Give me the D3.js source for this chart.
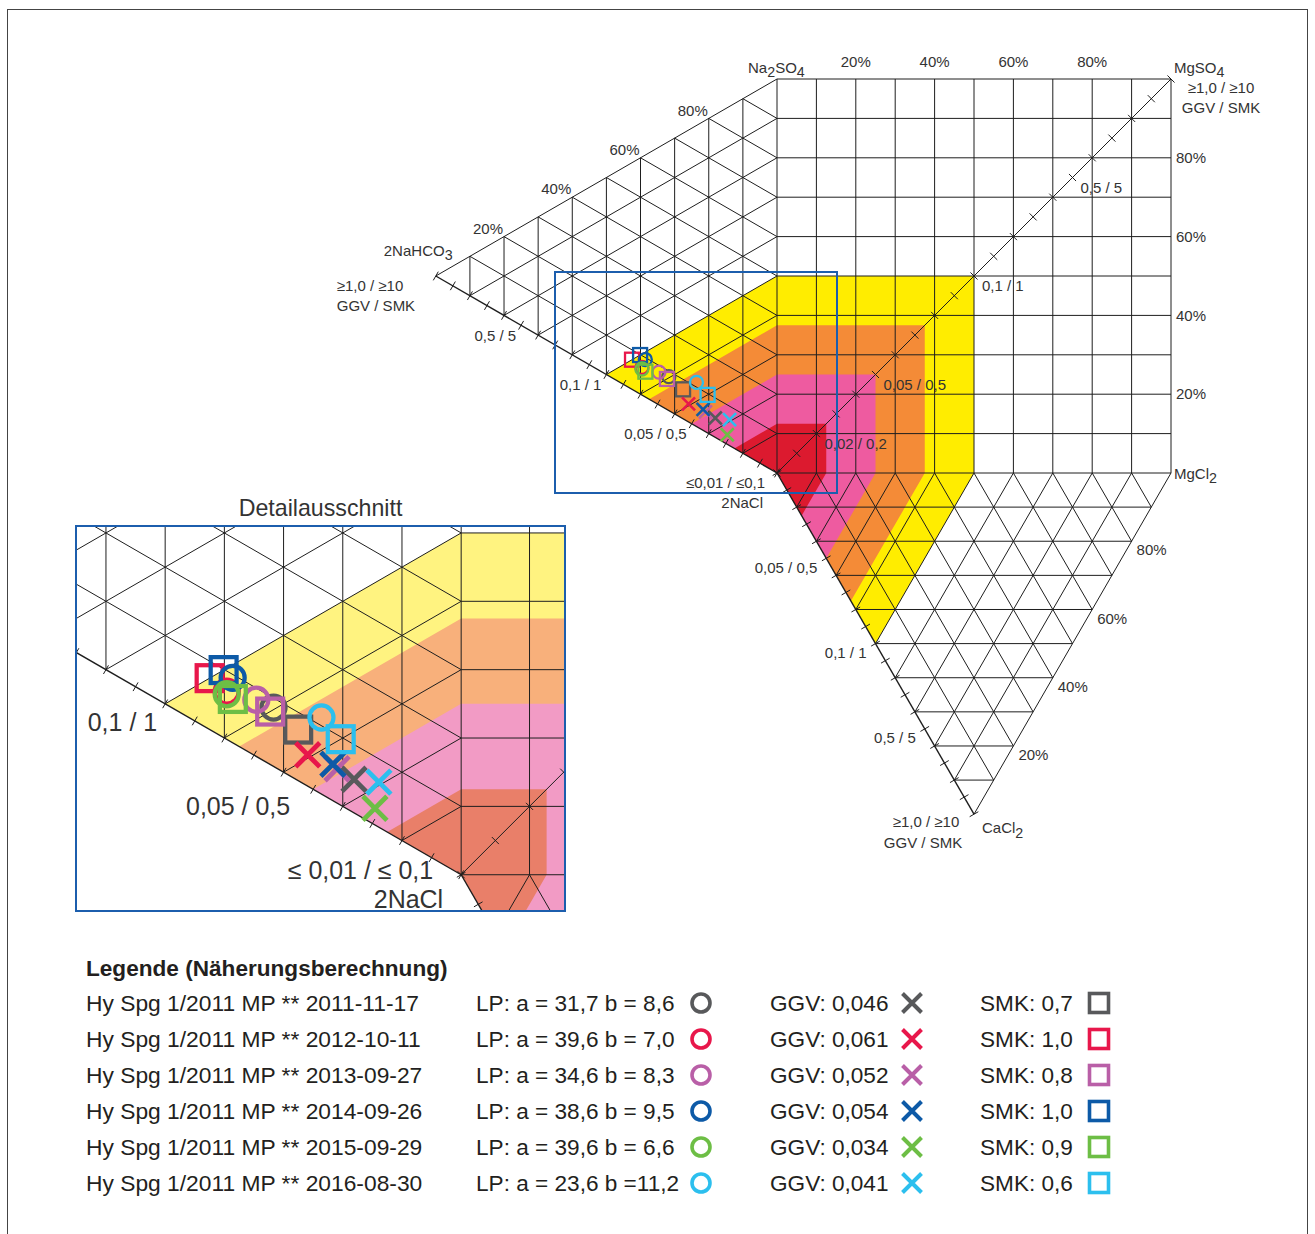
<!DOCTYPE html>
<html>
<head>
<meta charset="utf-8">
<script src="https://cdn.jsdelivr.net/npm/d3@7"></script>
<style>
  body { margin: 0; background: #fff; }
</style>
</head>
<body>
<div id="chart"></div>
<script>
// Messpunkte (Legende)
const samples = [
  "Hy Spg 1/2011 MP ** 2011-11-17",
  "Hy Spg 1/2011 MP ** 2012-10-11",
  "Hy Spg 1/2011 MP ** 2013-09-27",
  "Hy Spg 1/2011 MP ** 2014-09-26",
  "Hy Spg 1/2011 MP ** 2015-09-29",
  "Hy Spg 1/2011 MP ** 2016-08-30"
];
const lpA = [31.7, 39.6, 34.6, 38.6, 39.6, 23.6];   // % 2NaHCO3
const lpB = [8.6, 7.0, 8.3, 9.5, 6.6, 11.2];        // % Na2SO4
const ggv = [0.046, 0.061, 0.052, 0.054, 0.034, 0.041];
const smk = [0.7, 1.0, 0.8, 1.0, 0.9, 0.6];
const sampleColors = ["#58595b", "#e8174b", "#b95fa7", "#0d5aa7", "#6dbe45", "#2cbfee"];

// Skala GGV / SMK (SMK = 10 x GGV)
const ggvDomain = [0.01, 0.02, 0.05, 0.1, 0.5, 1];
const ggvPos = [0, 0.1, 0.25, 0.5, 0.75, 1];
const ratioVals = [0.5, 0.1, 0.05, 0.02];
const ratioText = ["0,5 / 5", "0,1 / 1", "0,05 / 0,5", "0,02 / 0,2"];
const pctTicks = [20, 40, 60, 80];

// Farbige Bereiche (Grenzwerte GGV)
const bandLimits = [0.1, 0.075, 0.05, 0.025];
const bandColors = ["#ffed00", "#f48b37", "#ee5ba0", "#dc1a2f"];
const bandColorsLight = ["#fff380", "#f8b07b", "#f29bc5", "#e97f69"];

const width = 1315, height = 1234;
const L = 394;
const font = "'Liberation Sans', Arial, Helvetica, sans-serif";

const svg = d3.select("#chart").append("svg")
  .attr("width", width).attr("height", height)
  .style("font-family", font);

svg.append("rect").attr("x", 7.5).attr("y", 9.5).attr("width", 1300).attr("height", 1240)
  .attr("fill", "none").attr("stroke", "#444").attr("stroke-width", 1);

const x = d3.scaleLinear().domain([0, 1]).range([777, 777 + L]);
const y = d3.scaleLinear().domain([0, 1]).range([473, 473 - L]);
const gpos = d3.scaleLinear().domain(ggvDomain).range(ggvPos).clamp(true);

// Ausschnitt
const zoomK = 1.735;
const box = { x0: 555, y0: 272, x1: 837, y1: 493 };
const inset = { x0: 76, y0: 526, x1: 565, y1: 911 };
const xi = d3.scaleLinear().domain([x.invert(box.x0), x.invert(box.x0 + (inset.x1 - inset.x0) / zoomK)]).range([inset.x0, inset.x1]);
const yi = d3.scaleLinear().domain([y.invert(box.y0), y.invert(box.y0 + (inset.y1 - inset.y0) / zoomK)]).range([inset.y0, inset.y1]);

const S3 = Math.sqrt(3) / 2;
const A = [0, 1], B = [0, 0], C = [-S3, 0.5], D = [1, 0], T = [1, 1], E = [0.5, -S3];
const lerp = (p, q, t) => [p[0] + (q[0] - p[0]) * t, p[1] + (q[1] - p[1]) * t];
const mul = (p, t) => [p[0] * t, p[1] * t];

// Beschriftungen (ix/iy: Versatz im Ausschnitt)
const labels = [
  { t: "Na_2SO_4", p: A, dx: -29, dy: -11, a: "start" },
  { t: "MgSO_4", p: T, dx: 3, dy: -11, a: "start" },
  { t: "≥1,0 / ≥10", p: T, dx: 50, dy: 9, a: "middle" },
  { t: "GGV / SMK", p: T, dx: 50, dy: 29, a: "middle" },
  { t: "MgCl_2", p: D, dx: 3, dy: 1, a: "start" },
  { t: "2NaHCO_3", p: C, dx: -52, dy: -25, a: "start" },
  { t: "≥1,0 /  ≥10", p: C, dx: -99, dy: 10, a: "start" },
  { t: "GGV / SMK", p: C, dx: -99, dy: 30, a: "start" },
  { t: "≤ 0,01 / ≤ 0,1", p: B, dx: -12, dy: 10, a: "end", ins: true, ix: -28, iy: -4 },
  { t: "2NaCl", p: B, dx: -14, dy: 30, a: "end", ins: true, ix: -18, iy: 25 },
  { t: "≥1,0 / ≥10", p: E, dx: -48, dy: 8, a: "middle" },
  { t: "GGV / SMK", p: E, dx: -51, dy: 29, a: "middle" },
  { t: "CaCl_2", p: E, dx: 8, dy: 14, a: "start" }
];
const insetOffsets = { "0,1 / 1": [-8, 18], "0,05 / 0,5": [-23, 17] };
ratioVals.forEach((v, i) => {
  const g = gpos(v);
  if (v >= 0.05) {
    const io = insetOffsets[ratioText[i]];
    labels.push({ t: ratioText[i], p: mul(C, g), dx: -5, dy: 10, a: "end",
      ins: !!io, ix: io ? io[0] : 0, iy: io ? io[1] : 0 });
    labels.push({ t: ratioText[i], p: mul(E, g), dx: -9, dy: 9, a: "end" });
  }
  labels.push({ t: ratioText[i], p: [g, g], dx: 8, dy: 10, a: "start" });
});
pctTicks.forEach(v => {
  const t = v / 100;
  labels.push({ t: v + "%", p: [t, 1], dx: 0, dy: -17, a: "middle" });
  labels.push({ t: v + "%", p: [1, t], dx: 5, dy: 0, a: "start" });
  labels.push({ t: v + "%", p: lerp(C, A, t), dx: -16, dy: -8, a: "middle" });
  labels.push({ t: v + "%", p: lerp(E, D, t), dx: 20, dy: 9, a: "middle" });
});

function addText(sel, str, fs) {
  const parts = str.split(/(_.)/).filter(s => s.length);
  let down = false;
  parts.forEach(part => {
    if (part[0] === "_") {
      sel.append("tspan").attr("dy", fs * 0.28).attr("font-size", fs * 0.95).text(part[1]);
      down = true;
    } else {
      const ts = sel.append("tspan").text(part);
      if (down) { ts.attr("dy", -fs * 0.28); down = false; }
    }
  });
}

function drawMarker(g, type, cx, cy, size, color, sw) {
  if (type === "circle") {
    g.append("circle").attr("cx", cx).attr("cy", cy).attr("r", size / 2)
      .attr("fill", "none").attr("stroke", color).attr("stroke-width", sw);
  } else if (type === "square") {
    g.append("rect").attr("x", cx - size / 2).attr("y", cy - size / 2)
      .attr("width", size).attr("height", size)
      .attr("fill", "none").attr("stroke", color).attr("stroke-width", sw);
  } else {
    const h = size / 2;
    g.append("path").attr("d", `M${cx - h},${cy - h}L${cx + h},${cy + h}M${cx - h},${cy + h}L${cx + h},${cy - h}`)
      .attr("fill", "none").attr("stroke", color).attr("stroke-width", sw);
  }
}

function drawDiagram(root, sx, sy, k, colors, isInset, ms) {
  const P = p => [sx(p[0]), sy(p[1])];
  const line = d3.line().x(p => sx(p[0])).y(p => sy(p[1]));

  root.append("g").selectAll("path").data(bandLimits).join("path")
    .attr("d", v => {
      const f = gpos(v);
      return line([[-S3 * f, f / 2], [0, f], [f, f], [f, 0], [f / 2, -S3 * f], [0, 0]]) + "Z";
    })
    .attr("fill", (v, i) => colors[i]);

  const segs = [];
  const tri = (p, q, r) => {
    for (let j = 1; j < 10; j++) {
      const t = j / 10;
      segs.push([lerp(p, q, t), lerp(p, r, t)]);
      segs.push([lerp(q, p, t), lerp(q, r, t)]);
      segs.push([lerp(r, p, t), lerp(r, q, t)]);
    }
  };
  tri(A, B, C);
  tri(B, D, E);
  for (let j = 1; j < 10; j++) {
    const t = j / 10;
    segs.push([[t, 0], [t, 1]]);
    segs.push([[0, t], [1, t]]);
  }
  segs.push([A, C], [A, T], [T, D], [D, E], [A, B], [B, D], [B, T]);

  root.append("g").selectAll("line").data(segs).join("line")
    .attr("x1", d => sx(d[0][0])).attr("y1", d => sy(d[0][1]))
    .attr("x2", d => sx(d[1][0])).attr("y2", d => sy(d[1][1]))
    .attr("stroke", "#1e1e1e").attr("stroke-width", 1);

  // skalierte Kanten mit Teilstrichen
  const ticks = [];
  [C, E, T].forEach(end => {
    const p0 = P(B), p1 = P(end);
    const len = Math.hypot(p1[0] - p0[0], p1[1] - p0[1]);
    const nx = -(p1[1] - p0[1]) / len, ny = (p1[0] - p0[0]) / len;
    for (let j = 0; j <= 20; j++) {
      const q = P(lerp(B, end, j / 20));
      ticks.push([q[0] - nx * 5, q[1] - ny * 5, q[0] + nx * 5, q[1] + ny * 5]);
    }
  });
  root.append("g").selectAll("line").data(ticks).join("line")
    .attr("x1", d => d[0]).attr("y1", d => d[1]).attr("x2", d => d[2]).attr("y2", d => d[3])
    .attr("stroke", "#1e1e1e").attr("stroke-width", 1);
  root.append("g").selectAll("line").data([C, E]).join("line")
    .attr("x1", sx(0)).attr("y1", sy(0))
    .attr("x2", d => sx(d[0])).attr("y2", d => sy(d[1]))
    .attr("stroke", "#1e1e1e").attr("stroke-width", 1.4);

  const fs = (isInset ? 14.4 : 15) * k;
  const lg = root.append("g").attr("fill", "#333").attr("font-size", fs);
  labels.filter(d => !isInset || d.ins).forEach(d => {
    const q = P(d.p);
    const ox = isInset ? d.ix : d.dx, oy = isInset ? d.iy : d.dy;
    const t = lg.append("text").attr("x", q[0] + ox).attr("y", q[1] + oy)
      .attr("dy", "0.35em").attr("text-anchor", d.a);
    addText(t, isInset ? d.t : d.t.replace(/≤ /g, "≤"), fs);
  });

  const mg = root.append("g");
  samples.forEach((s, i) => {
    const a = lpA[i] / 100, b = lpB[i] / 100;
    const lp = [-S3 * a, a / 2 + b];
    const sum = a + b;
    const pg = P(mul(lp, gpos(ggv[i]) / sum));
    const ps = P(mul(lp, gpos(smk[i] / 10) / sum));
    const pl = P(lp);
    drawMarker(mg, "circle", pl[0], pl[1], 13 * ms, sampleColors[i], 2.3 * ms);
    drawMarker(mg, "square", ps[0], ps[1], 14 * ms, sampleColors[i], 2.3 * ms);
    drawMarker(mg, "cross", pg[0], pg[1], 13 * ms, sampleColors[i], 2.6 * ms);
  });
}

// Hauptdiagramm
drawDiagram(svg.append("g"), x, y, 1, bandColors, false, 1);

svg.append("rect").attr("x", box.x0).attr("y", box.y0)
  .attr("width", box.x1 - box.x0).attr("height", box.y1 - box.y0)
  .attr("fill", "none").attr("stroke", "#1c5ead").attr("stroke-width", 2);

// Detailausschnitt
svg.append("clipPath").attr("id", "clipInset").append("rect")
  .attr("x", inset.x0).attr("y", inset.y0)
  .attr("width", inset.x1 - inset.x0).attr("height", inset.y1 - inset.y0);
const ig = svg.append("g").attr("clip-path", "url(#clipInset)");
ig.append("rect").attr("x", inset.x0).attr("y", inset.y0)
  .attr("width", inset.x1 - inset.x0).attr("height", inset.y1 - inset.y0).attr("fill", "#fff");
drawDiagram(ig, xi, yi, zoomK, bandColorsLight, true, 1.85);
svg.append("rect").attr("x", inset.x0).attr("y", inset.y0)
  .attr("width", inset.x1 - inset.x0).attr("height", inset.y1 - inset.y0)
  .attr("fill", "none").attr("stroke", "#1c5ead").attr("stroke-width", 2);
svg.append("text").attr("x", (inset.x0 + inset.x1) / 2).attr("y", 508).attr("dy", "0.35em")
  .attr("text-anchor", "middle").attr("font-size", 23.2).attr("fill", "#333")
  .text("Detailausschnitt");

// Legende
const leg = svg.append("g").attr("fill", "#231f20").attr("font-size", 22.6);
leg.append("text").attr("x", 86).attr("y", 968).attr("dy", "0.35em")
  .attr("font-weight", "bold").text("Legende (Näherungsberechnung)");
const fmt = v => String(v).replace(".", ",");
const fmt1 = v => v.toFixed(1).replace(".", ",");
samples.forEach((s, i) => {
  const yy = 1003 + i * 36;
  leg.append("text").attr("x", 86).attr("y", yy).attr("dy", "0.35em")
    .attr("font-size", 22.8).text(s);
  const bTxt = lpB[i] >= 10 ? "=" + fmt1(lpB[i]) : "= " + fmt1(lpB[i]);
  leg.append("text").attr("x", 476).attr("y", yy).attr("dy", "0.35em")
    .text(`LP: a = ${fmt1(lpA[i])} b ${bTxt}`);
  leg.append("text").attr("x", 770).attr("y", yy).attr("dy", "0.35em").text(`GGV: ${fmt(ggv[i])}`);
  leg.append("text").attr("x", 980).attr("y", yy).attr("dy", "0.35em").text(`SMK: ${fmt1(smk[i])}`);
  drawMarker(leg, "circle", 701, yy, 18, sampleColors[i], 3.6);
  drawMarker(leg, "cross", 912, yy, 19, sampleColors[i], 4);
  drawMarker(leg, "square", 1099, yy, 19, sampleColors[i], 3.6);
});
</script>
</body>
</html>
